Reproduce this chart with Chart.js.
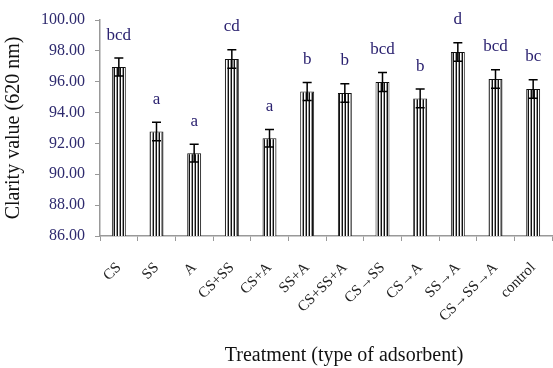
<!DOCTYPE html>
<html>
<head>
<meta charset="utf-8">
<script src="https://cdn.jsdelivr.net/npm/chart.js@4"></script>
<style>
  html, body { margin: 0; padding: 0; background: #fff; }
  #wrap { width: 553px; height: 368px; }
</style>
</head>
<body>
<div id="wrap"><canvas id="chart" width="553" height="368"></canvas></div>
<script>
const treatments = ['CS', 'SS', 'A', 'CS+SS', 'CS+A', 'SS+A', 'CS+SS+A', 'CS\u2192SS', 'CS\u2192A', 'SS\u2192A', 'CS\u2192SS\u2192A', 'control'];
const clarity = [96.95, 92.77, 91.37, 97.47, 92.34, 95.37, 95.27, 95.98, 94.92, 97.93, 96.17, 95.53];
const errors = [0.58, 0.6, 0.58, 0.6, 0.57, 0.58, 0.6, 0.62, 0.6, 0.6, 0.6, 0.6];
const groups = ['bcd', 'a', 'a', 'cd', 'a', 'b', 'b', 'bcd', 'b', 'd', 'bcd', 'bc'];
const yTicks = [86, 88, 90, 92, 94, 96, 98, 100];
const xTitle = 'Treatment (type of adsorbent)';

// vertical stripe fill like the original bars
const makeStripes = () => {
  const c = document.createElement('canvas');
  c.width = 3;
  c.height = 4;
  const g = c.getContext('2d');
  g.fillStyle = '#111';
  g.fillRect(0, 0, 1, 4);
  g.fillStyle = '#fff';
  g.fillRect(1, 0, 1, 4);
  g.fillStyle = '#9a9a9a';
  g.fillRect(2, 0, 1, 4);
  return g.createPattern(c, 'repeat');
};

const errorBars = {
  id: 'errorBars',
  afterDatasetsDraw(chart) {
    const { ctx } = chart;
    const y = chart.scales.y;
    const meta = chart.getDatasetMeta(0);
    ctx.save();
    meta.data.forEach((bar, i) => {
      const top = y.getPixelForValue(clarity[i] + errors[i]);
      const bot = y.getPixelForValue(clarity[i] - errors[i]);
      ctx.strokeStyle = '#000';
      ctx.lineWidth = 1.5;
      ctx.beginPath();
      ctx.moveTo(bar.x, top);
      ctx.lineTo(bar.x, bot);
      ctx.moveTo(bar.x - 4.5, top);
      ctx.lineTo(bar.x + 4.5, top);
      ctx.moveTo(bar.x - 4.5, bot);
      ctx.lineTo(bar.x + 4.5, bot);
      ctx.stroke();

      ctx.fillStyle = '#2b2270';
      ctx.font = '17px "Liberation Serif", serif';
      ctx.textAlign = 'center';
      ctx.textBaseline = 'middle';
      ctx.fillText(groups[i], bar.x, top - 23);
    });

    // x-axis title, sits a bit right of the plot centre in the original
    ctx.fillStyle = '#111';
    ctx.font = '20px "Liberation Serif", serif';
    ctx.textAlign = 'center';
    ctx.textBaseline = 'middle';
    ctx.fillText(xTitle, chart.chartArea.left + (chart.chartArea.right - chart.chartArea.left) * 0.54, chart.height - 12);
    ctx.restore();
  }
};

const ctx = document.getElementById('chart').getContext('2d');
new Chart(ctx, {
  type: 'bar',
  data: {
    labels: treatments,
    datasets: [{
      data: clarity,
      backgroundColor: makeStripes(),
      borderColor: '#111',
      borderWidth: 1,
      barPercentage: 0.37,
      categoryPercentage: 1
    }]
  },
  options: {
    responsive: false,
    animation: false,
    layout: { padding: { top: 20, right: 1, left: 0, bottom: 0 } },
    plugins: {
      legend: { display: false },
      tooltip: { enabled: false }
    },
    scales: {
      x: {
        afterFit: (scale) => {
          scale.height = 132;
          scale.paddingLeft = 0;
          scale.paddingRight = 0;
        },
        grid: {
          drawOnChartArea: false,
          color: '#999',
          tickLength: 5,
          offset: true
        },
        border: { color: '#999', width: 1.5 },
        ticks: {
          color: '#222',
          font: { family: '"Liberation Serif", serif', size: 15 },
          minRotation: 45,
          maxRotation: 45,
          autoSkip: false,
          padding: 18
        }
      },
      y: {
        min: 86,
        max: 100,
        afterFit: (scale) => { scale.width = 100; },
        afterBuildTicks: (scale) => { scale.ticks = yTicks.map(v => ({ value: v })); },
        grid: {
          drawOnChartArea: false,
          color: '#999',
          tickLength: 5
        },
        border: { color: '#999', width: 1.5 },
        ticks: {
          color: '#2e2a6e',
          font: { family: '"Liberation Serif", serif', size: 16 },
          padding: 10,
          callback: (v) => Number(v).toFixed(2)
        },
        title: {
          display: true,
          text: 'Clarity value (620 nm)',
          color: '#111',
          font: { family: '"Liberation Serif", serif', size: 20 },
          padding: { top: 2, bottom: 0 }
        }
      }
    }
  },
  plugins: [errorBars]
});
</script>
</body>
</html>
